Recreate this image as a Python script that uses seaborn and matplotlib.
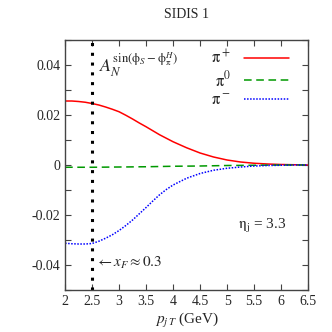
import numpy as np
import pandas as pd
import matplotlib
matplotlib.use("Agg")
import matplotlib.pyplot as plt
import seaborn as sns

# values
pt = [2.0, 2.125, 2.25, 2.375, 2.5, 2.625, 2.75, 2.875, 3.0, 3.125, 3.25,
      3.375, 3.5, 3.625, 3.75, 3.875, 4.0, 4.25, 4.5, 4.75, 5.0, 5.25, 5.5,
      5.75, 6.0, 6.25, 6.5]
pi_plus = [0.0256, 0.0256, 0.0254, 0.0251, 0.0246, 0.0240, 0.0232, 0.0223,
           0.0213, 0.0199, 0.0184, 0.0168, 0.0153, 0.0137, 0.0121, 0.0107,
           0.0093, 0.0069, 0.0048, 0.0032, 0.0020, 0.0012, 0.0007, 0.0004,
           0.0002, 0.0001, 0.0]
pi_zero = [-0.0009, -0.0009, -0.0009, -0.0009, -0.0009, -0.00088, -0.00085,
           -0.00082, -0.0008, -0.00078, -0.00075, -0.00072, -0.0007, -0.00065,
           -0.0006, -0.00055, -0.0005, -0.00045, -0.0004, -0.0003, -0.0002,
           -0.00015, -0.0001, -0.00005, 0.0, 0.0, 0.0]
pi_minus = [-0.0313, -0.0315, -0.0316, -0.0316, -0.0314, -0.0305, -0.0293,
            -0.0279, -0.0262, -0.0242, -0.0220, -0.0195, -0.0170, -0.0144,
            -0.0119, -0.0098, -0.0080, -0.0053, -0.0034, -0.0021, -0.0013,
            -0.0008, -0.0004, -0.0002, -0.0001, 0.0, 0.0]
series = [r"$\mathrm{\pi}^+$", r"$\mathrm{\pi}^0$", r"$\mathrm{\pi}^-$"]
colors = ["#ff0000", "#009900", "#0000ff"]
xticks = [2, 2.5, 3, 3.5, 4, 4.5, 5, 5.5, 6, 6.5]
xticklabels = ["2", "2.5", "3", "3.5", "4", "4.5", "5", "5.5", "6", "6.5"]
yticks = [-0.04, -0.02, 0, 0.02, 0.04]
yticklabels = ["-0.04", "-0.02", "0", "0.02", "0.04"]

df = pd.DataFrame({
    "pt": pt * 3,
    "A": pi_plus + pi_zero + pi_minus,
    "pion": [series[0]] * len(pt) + [series[1]] * len(pt) + [series[2]] * len(pt),
})

sns.set_style("ticks")
plt.rcParams["font.family"] = ["Liberation Serif", "DejaVu Serif"]
plt.rcParams["mathtext.fontset"] = "stix"

fig = plt.figure(figsize=(3.32, 3.32), dpi=100)
ax = fig.add_axes([0.196, 0.1265, 0.732, 0.753])

sns.lineplot(data=df, x="pt", y="A", hue="pion", palette=colors,
             style="pion", dashes=[(None, None), (5, 3), (1, 1)],
             linewidth=1.1, ax=ax, legend=False)
ax.axvline(2.5, color="black", linestyle=(0, (1, 2.2)), linewidth=2.2)

ax.set_xlim(2, 6.5)
ax.set_ylim(-0.05, 0.05)
ax.set_xticks(xticks)
ax.set_xticklabels(xticklabels)
ax.set_yticks(yticks)
ax.set_yticklabels(yticklabels)
ax.set_yticks(np.arange(-0.05, 0.051, 0.01), minor=True)
ax.tick_params(which="both", direction="in", top=True, right=True,
               labelsize=10, length=4, width=0.8, color="#444444")
ax.tick_params(which="minor", length=4)
for s in ax.spines.values():
    s.set_linewidth(1.0)
    s.set_color("#444444")

ax.set_xlabel(r"$p_{j\,T}$ (GeV)", fontsize=11, labelpad=2)
ax.set_ylabel("")
ax.set_title("SIDIS 1", fontsize=10, pad=16)

handles = [plt.Line2D([], [], color=colors[0], lw=1.1),
           plt.Line2D([], [], color=colors[1], lw=1.1, dashes=(5, 3)),
           plt.Line2D([], [], color=colors[2], lw=1.1, dashes=(1, 1))]
ax.legend(handles, series, loc="upper right", frameon=False, markerfirst=False,
          fontsize=12, handlelength=2.7, labelspacing=0.15,
          borderaxespad=0.3, bbox_to_anchor=(0.97, 1.01))

ax.text(0.14, 0.9, r"$A_N^{\sin(\mathrm{\phi}_S-\mathrm{\phi}_\mathrm{\pi}^H)}$",
        transform=ax.transAxes, fontsize=13, va="center")
ax.text(0.71, 0.255, r"$\mathrm{\eta}_\mathrm{j}$ = 3.3", transform=ax.transAxes,
        fontsize=11, va="center")
ax.text(0.125, 0.11, r"$\leftarrow x_F \approx 0.3$", transform=ax.transAxes,
        fontsize=11, va="center")

fig.savefig("out.png", dpi=100)
